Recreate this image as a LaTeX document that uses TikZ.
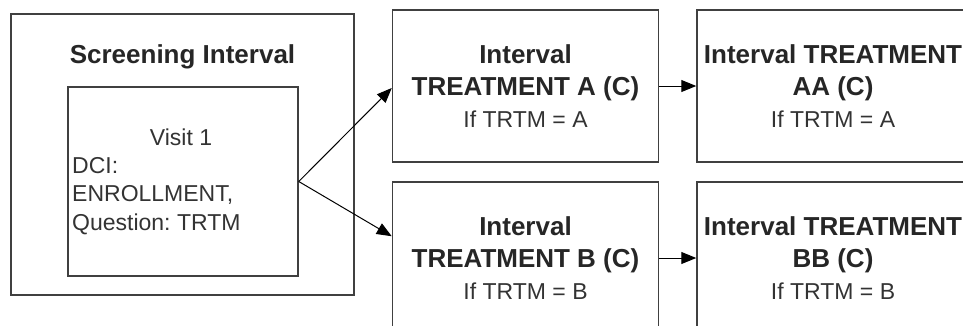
\documentclass[tikz,border=0pt]{standalone}
\usepackage{fontspec}
\setmainfont{Liberation Sans}
\usetikzlibrary{arrows.meta}
\frenchspacing
\newcommand{\ivhead}[1]{{\fontsize{26}{32}\selectfont\bfseries\color{black!85}#1}}
\begin{document}
\begin{tikzpicture}[x=1pt,y=-1pt,
    box/.style={draw=black!75,line width=1.5pt,rectangle,inner sep=0pt},
    ivbox/.style={box,minimum width=266pt,minimum height=152pt,align=center,
      text=black!80,font=\fontsize{23}{32}\selectfont},
    bigtext/.style={font=\fontsize{26}{32}\selectfont\bfseries,text=black!85},
    smalltext/.style={font=\fontsize{23}{28.5}\selectfont,text=black!80,inner sep=0pt},
    link/.style={-{Triangle[length=15pt,width=12pt]},line width=1pt},
  ]
\useasboundingbox (0,0) rectangle (963,325);
\clip (0,0) rectangle (963,325);
\node[box,minimum width=343pt,minimum height=281pt] (screen) at (182.5,154.5) {};
\node[bigtext,anchor=base,inner sep=0pt] (screentitle) at (182.5,63) {Screening Interval};
\node[box,minimum width=230pt,minimum height=189pt] (visit) at (183,181.5) {};
\node[smalltext,anchor=base] (visittitle) at (181,145) {Visit 1};
\node[smalltext,anchor=base west,align=left] (dci) at (72,230) {DCI:\\ENROLLMENT,\\Question: TRTM};
\node[ivbox] (trta) at (525.5,86) {\ivhead{Interval}\\\ivhead{TREATMENT A (C)}\\If TRTM = A};
\node[ivbox] (trtb) at (525.5,258) {\ivhead{Interval}\\\ivhead{TREATMENT B (C)}\\If TRTM = B};
\node[ivbox,minimum width=272pt] (trtaa) at (833,86) {\ivhead{Interval TREATMENT}\\\ivhead{AA (C)}\\If TRTM = A};
\node[ivbox,minimum width=272pt] (trtbb) at (833,258) {\ivhead{Interval TREATMENT}\\\ivhead{BB (C)}\\If TRTM = B};
\draw[link] (visit.east) -- ([yshift=-2pt]trta.west);
\draw[link] (visit.east) -- ([yshift=-55pt]trtb.north west);
\draw[link] (trta.east) -- (trtaa.west);
\draw[link] (trtb.east) -- (trtbb.west);
\end{tikzpicture}
\end{document}
